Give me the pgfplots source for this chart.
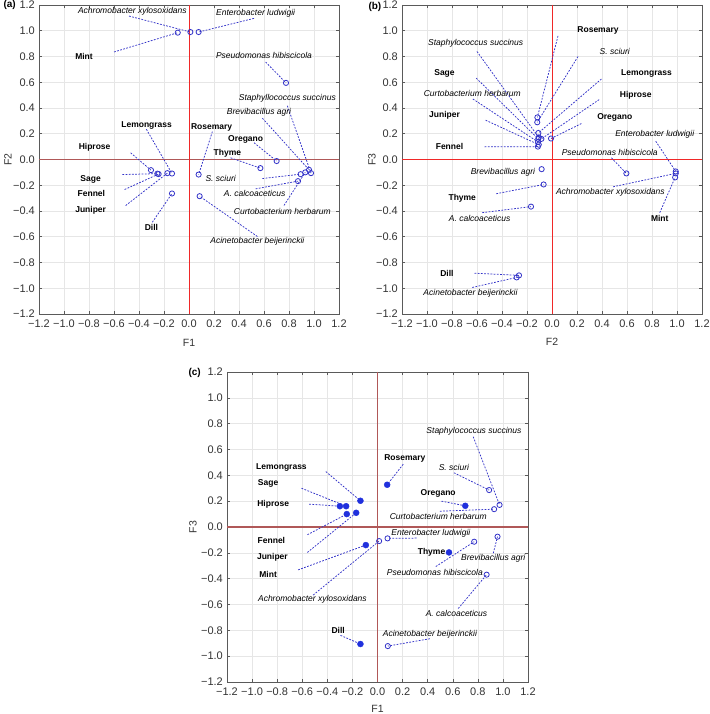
\documentclass[border=0pt]{standalone}
\usepackage{pgfplots}
\pgfplotsset{compat=1.18}
\usepackage{fontspec}
\setmainfont{Liberation Sans}
\definecolor{ptblue}{HTML}{3232C8}
\definecolor{fillblue}{HTML}{2030DD}
\definecolor{zred}{HTML}{F02828}
\definecolor{zbrown}{HTML}{B05858}
\definecolor{gridc}{HTML}{E6E6E6}
\definecolor{framec}{HTML}{5A5A5A}
\newcommand{\labfont}{\fontsize{8.5}{10}\selectfont}
\newcommand{\ld}[4]{\addplot[lead] coordinates {(#1,#2) (#3,#4)};}
\newcommand{\bac}[3]{\node[font=\labfont\itshape, inner sep=0pt] at (axis cs:#1,#2) {#3};}
\newcommand{\pla}[3]{\node[font=\labfont\bfseries, inner sep=0pt] at (axis cs:#1,#2) {#3};}
\pgfplotsset{
  pca/.style={
    scale only axis, width=300pt, height=309pt,
    xmin=-1.2, xmax=1.2, ymin=-1.2, ymax=1.2,
    xtick={-1.2,-1.0,-0.8,-0.6,-0.4,-0.2,0,0.2,0.4,0.6,0.8,1.0,1.2},
    ytick={-1.2,-1.0,-0.8,-0.6,-0.4,-0.2,0,0.2,0.4,0.6,0.8,1.0,1.2},
    xticklabels={−1.2,−1.0,−0.8,−0.6,−0.4,−0.2,0.0,0.2,0.4,0.6,0.8,1.0,1.2},
    yticklabels={−1.2,−1.0,−0.8,−0.6,−0.4,−0.2,0.0,0.2,0.4,0.6,0.8,1.0,1.2},
    grid=major, major grid style={gridc, line width=0.5pt},
    axis line style={framec, line width=0.7pt},
    tick style={framec, line width=0.5pt}, tick align=inside, major tick length=3pt,
    ticklabel style={font=\fontsize{11}{12}\selectfont, text=black!80, inner sep=1pt},
    xticklabel style={yshift=-5pt},
    yticklabel style={xshift=-3pt},
    clip=false,
  },
  lead/.style={ptblue, line width=0.75pt, dash pattern=on 1.8pt off 1.4pt, forget plot},
  opn/.style={only marks, mark=o, mark size=2.6pt, mark options={ptblue, line width=0.8pt}},
  fld/.style={only marks, mark=*, mark size=3pt, mark options={fillblue, draw=fillblue}},
}
\begin{document}
\begin{tikzpicture}[x=1pt,y=1pt]
\path[use as bounding box] (0,0) rectangle (709,714);
\node[anchor=west, font=\fontsize{10}{12}\selectfont\bfseries] at (0,709) {(a)};
\node[anchor=west, font=\fontsize{10}{12}\selectfont\bfseries] at (365,707) {(b)};
\node[anchor=west, font=\fontsize{10}{12}\selectfont\bfseries] at (185,341) {(c)};
% ---------------- (a) F1 vs F2
\begin{axis}[pca, at={(39pt,400pt)}, anchor=south west]
\addplot[zbrown, line width=1.2pt, forget plot] coordinates {(-1.2,0) (1.2,0)};
\addplot[zred, line width=0.9pt, forget plot] coordinates {(0,-1.2) (0,1.2)};
\ld{-0.48}{1.114}{0.011}{0.99}
\ld{-0.60}{0.835}{-0.09}{0.985}
\ld{0.52}{1.096}{0.077}{0.99}
\ld{0.613}{0.757}{0.776}{0.595}
\ld{0.787}{0.417}{0.976}{-0.106}
\ld{0.587}{0.321}{0.96}{-0.08}
\ld{-0.341}{0.235}{-0.136}{-0.109}
\ld{0.187}{0.217}{0.077}{-0.117}
\ld{0.52}{0.13}{0.701}{-0.012}
\ld{0.333}{0.013}{0.571}{-0.067}
\ld{-0.467}{0.052}{-0.304}{-0.083}
\ld{-0.533}{-0.117}{-0.253}{-0.11}
\ld{-0.515}{-0.233}{-0.243}{-0.113}
\ld{-0.507}{-0.358}{-0.173}{-0.106}
\ld{-0.293}{-0.487}{-0.136}{-0.264}
\ld{0.587}{-0.148}{0.893}{-0.114}
\ld{0.533}{-0.228}{0.872}{-0.168}
\ld{0.76}{-0.357}{0.93}{-0.10}
\ld{0.547}{-0.598}{0.085}{-0.285}
\addplot[opn] coordinates {
(-0.09,0.985) (0.011,0.99) (0.077,0.99) (0.776,0.595) (0.701,-0.012) (0.571,-0.067)
(-0.304,-0.083) (-0.253,-0.11) (-0.243,-0.113) (-0.173,-0.106) (-0.136,-0.109)
(-0.136,-0.264) (0.077,-0.117) (0.085,-0.285) (0.872,-0.168) (0.893,-0.114)
(0.93,-0.10) (0.96,-0.08) (0.976,-0.106)};
\bac{-0.453}{1.148}{Achromobacter xylosoxidans}
\bac{0.533}{1.135}{Enterobacter ludwigii}
\pla{-0.84}{0.80}{Mint}
\bac{0.60}{0.809}{Pseudomonas hibiscicola}
\bac{0.787}{0.475}{Staphyllococcus succinus}
\bac{0.56}{0.365}{Brevibacillus agri}
\pla{-0.339}{0.266}{Lemongrass}
\pla{0.181}{0.248}{Rosemary}
\pla{0.453}{0.157}{Oregano}
\pla{0.307}{0.047}{Thyme}
\pla{-0.755}{0.091}{Hiprose}
\pla{-0.787}{-0.155}{Sage}
\pla{-0.781}{-0.267}{Fennel}
\pla{-0.787}{-0.396}{Juniper}
\pla{-0.301}{-0.531}{Dill}
\bac{0.253}{-0.148}{S. sciuri}
\bac{0.525}{-0.262}{A. calcoaceticus}
\bac{0.747}{-0.40}{Curtobacterium herbarum}
\bac{0.547}{-0.635}{Acinetobacter beijerinckii}
\node[font=\fontsize{10.5}{12}\selectfont, text=black!80] at ([yshift=-29pt]rel axis cs:0.5,0) {F1};
\node[font=\fontsize{10.5}{12}\selectfont, text=black!80, rotate=90] at ([xshift=-31pt]rel axis cs:0,0.5) {F2};
\end{axis}
% ---------------- (b) F2 vs F3
\begin{axis}[pca, at={(402pt,400pt)}, anchor=south west]
\addplot[zred, line width=0.9pt, forget plot] coordinates {(-1.2,0) (1.2,0)};
\addplot[zred, line width=0.9pt, forget plot] coordinates {(0,-1.2) (0,1.2)};
\ld{0.048}{0.96}{-0.117}{0.327}
\ld{-0.60}{0.839}{-0.106}{0.171}
\ld{0.208}{0.80}{-0.118}{0.289}
\ld{-0.606}{0.632}{-0.11}{0.16}
\ld{0.395}{0.625}{-0.109}{0.206}
\ld{-0.633}{0.47}{-0.112}{0.136}
\ld{0.377}{0.465}{-0.085}{0.16}
\ld{-0.531}{0.305}{-0.106}{0.115}
\ld{0.235}{0.279}{-0.008}{0.163}
\ld{-0.539}{0.098}{-0.113}{0.10}
\ld{0.83}{0.142}{0.99}{-0.093}
\ld{0.475}{0.013}{0.595}{-0.108}
\ld{-0.446}{-0.266}{-0.067}{-0.194}
\ld{-0.558}{-0.413}{-0.168}{-0.366}
\ld{0.489}{-0.212}{0.99}{-0.108}
\ld{0.862}{-0.413}{0.985}{-0.139}
\ld{-0.62}{-0.883}{-0.264}{-0.90}
\ld{-0.638}{-0.994}{-0.283}{-0.916}
\addplot[opn] coordinates {
(0.985,-0.139) (0.99,-0.108) (0.99,-0.093) (0.595,-0.108) (-0.008,0.163) (-0.067,-0.194)
(-0.085,0.16) (-0.11,0.16) (-0.113,0.10) (-0.106,0.115) (-0.109,0.206)
(-0.264,-0.90) (-0.117,0.327) (-0.283,-0.916) (-0.168,-0.366) (-0.118,0.289)
(-0.112,0.136) (-0.083,-0.075) (-0.106,0.171)};
\pla{0.368}{1.001}{Rosemary}
\bac{-0.611}{0.903}{Staphylococcus succinus}
\bac{0.502}{0.839}{S. sciuri}
\pla{-0.86}{0.671}{Sage}
\pla{0.756}{0.671}{Lemongrass}
\bac{-0.638}{0.511}{Curtobacterium herbarum}
\pla{0.67}{0.50}{Hiprose}
\pla{-0.86}{0.341}{Juniper}
\pla{0.502}{0.328}{Oregano}
\pla{-0.82}{0.098}{Fennel}
\bac{0.822}{0.199}{Enterobacter ludwigii}
\bac{0.462}{0.057}{Pseudomonas hibiscicola}
\bac{-0.393}{-0.098}{Brevibacillus agri}
\pla{-0.718}{-0.305}{Thyme}
\bac{-0.579}{-0.457}{A. calcoaceticus}
\bac{0.467}{-0.253}{Achromobacter xylosoxidans}
\pla{0.862}{-0.457}{Mint}
\pla{-0.841}{-0.883}{Dill}
\bac{-0.652}{-1.037}{Acinetobacter beijerinckii}
\node[font=\fontsize{10.5}{12}\selectfont, text=black!80] at ([yshift=-28pt]rel axis cs:0.5,0) {F2};
\node[font=\fontsize{10.5}{12}\selectfont, text=black!80, rotate=90] at ([xshift=-30pt]rel axis cs:0,0.5) {F3};
\end{axis}
% ---------------- (c) F1 vs F3
\begin{axis}[pca, width=301pt, height=310pt, at={(227pt,32pt)}, anchor=south west]
\addplot[zbrown, line width=1.1pt, forget plot] coordinates {(-1.2,0) (1.2,0)};
\addplot[zbrown, line width=1.1pt, forget plot] coordinates {(0,-1.2) (0,1.2)};
\ld{0.205}{0.486}{0.077}{0.327}
\ld{-0.412}{0.429}{-0.136}{0.203}
\ld{-0.606}{0.30}{-0.25}{0.161}
\ld{-0.545}{0.177}{-0.30}{0.161}
\ld{0.51}{0.20}{0.70}{0.164}
\ld{0.609}{0.42}{0.89}{0.286}
\ld{0.763}{0.699}{0.973}{0.171}
\ld{0.497}{0.122}{0.93}{0.138}
\ld{-0.559}{-0.06}{-0.245}{0.10}
\ld{-0.559}{-0.197}{-0.17}{0.11}
\ld{-0.633}{-0.332}{-0.093}{-0.14}
\ld{-0.513}{-0.527}{0.013}{-0.109}
\ld{0.311}{-0.086}{0.08}{-0.088}
\ld{0.465}{-0.306}{0.771}{-0.114}
\ld{0.923}{-0.203}{0.957}{-0.075}
\ld{0.644}{-0.631}{0.87}{-0.369}
\ld{-0.295}{-0.839}{-0.136}{-0.906}
\ld{0.418}{-0.865}{0.082}{-0.922}
\addplot[fld] coordinates {
(-0.093,-0.14) (-0.136,0.203) (-0.30,0.161) (-0.25,0.161) (-0.245,0.10)
(-0.17,0.11) (-0.136,-0.906) (0.077,0.327) (0.70,0.164) (0.57,-0.197)};
\addplot[opn] coordinates {
(0.013,-0.109) (0.08,-0.088) (0.771,-0.114) (0.973,0.171) (0.957,-0.075)
(0.89,0.286) (0.87,-0.369) (0.93,0.138) (0.082,-0.922)};
\pla{0.218}{0.532}{Rosemary}
\pla{-0.766}{0.46}{Lemongrass}
\pla{-0.872}{0.338}{Sage}
\pla{-0.832}{0.174}{Hiprose}
\pla{0.484}{0.257}{Oregano}
\bac{0.609}{0.46}{S. sciuri}
\bac{0.769}{0.74}{Staphylococcus succinus}
\bac{0.484}{0.083}{Curtobacterium herbarum}
\pla{-0.846}{-0.104}{Fennel}
\pla{-0.838}{-0.234}{Juniper}
\pla{-0.872}{-0.366}{Mint}
\bac{-0.519}{-0.561}{Achromobacter xylosoxidans}
\bac{0.426}{-0.047}{Enterobacter ludwigii}
\pla{0.431}{-0.197}{Thyme}
\bac{0.457}{-0.351}{Pseudomonas hibiscicola}
\bac{0.923}{-0.242}{Brevibacillus agri}
\bac{0.63}{-0.67}{A. calcoaceticus}
\pla{-0.314}{-0.80}{Dill}
\bac{0.418}{-0.831}{Acinetobacter beijerinckii}
\node[font=\fontsize{10.5}{12}\selectfont, text=black!80] at ([yshift=-27pt]rel axis cs:0.5,0) {F1};
\node[font=\fontsize{10.5}{12}\selectfont, text=black!80, rotate=90] at ([xshift=-34pt]rel axis cs:0,0.5) {F3};
\end{axis}
\end{tikzpicture}
\end{document}
